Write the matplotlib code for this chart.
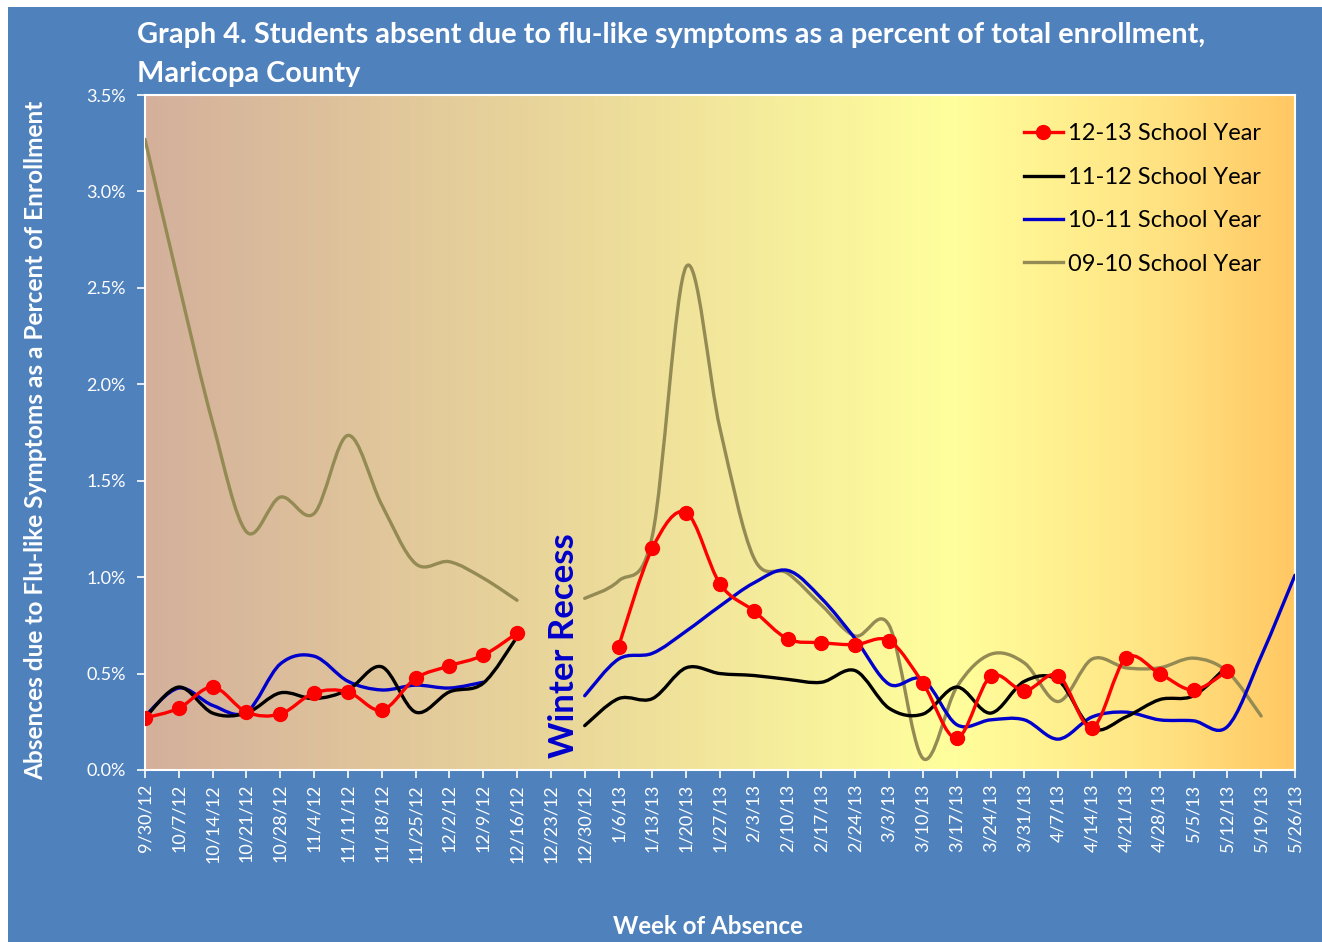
import matplotlib
matplotlib.use('Agg')
import matplotlib.pyplot as plt
import numpy as np
from matplotlib.path import Path
from matplotlib.patches import PathPatch, Rectangle
from matplotlib.lines import Line2D
from matplotlib.colors import LinearSegmentedColormap

weeks = ["9/30/12", "10/7/12", "10/14/12", "10/21/12", "10/28/12", "11/4/12", "11/11/12",
         "11/18/12", "11/25/12", "12/2/12", "12/9/12", "12/16/12", "12/23/12", "12/30/12",
         "1/6/13", "1/13/13", "1/20/13", "1/27/13", "2/3/13", "2/10/13", "2/17/13", "2/24/13",
         "3/3/13", "3/10/13", "3/17/13", "3/24/13", "3/31/13", "4/7/13", "4/14/13", "4/21/13",
         "4/28/13", "5/5/13", "5/12/13", "5/19/13", "5/26/13"]

# percent of enrollment, None = no data
sy_12_13 = [0.27, 0.32, 0.43, 0.30, 0.29, 0.40, 0.405, 0.31, 0.475, 0.54, 0.595, 0.71,
            None, None,
            0.64, 1.15, 1.335, 0.965, 0.825, 0.68, 0.66, 0.65, 0.67, 0.45, 0.165, 0.485,
            0.41, 0.49, 0.22, 0.58, 0.50, 0.415, 0.515, None, None]
sy_11_12 = [0.27, 0.43, 0.295, 0.295, 0.40, 0.37, 0.415, 0.535, 0.30, 0.405, 0.45, 0.69,
            None,
            0.23, 0.37, 0.37, 0.53, 0.50, 0.49, 0.47, 0.455, 0.515, 0.32, 0.29, 0.43, 0.295,
            0.46, 0.465, 0.215, 0.275, 0.365, 0.385, 0.54, None, None]
sy_10_11 = [0.28, 0.425, 0.335, 0.30, 0.55, 0.59, 0.46, 0.415, 0.44, 0.425, 0.455, None,
            None,
            0.385, 0.575, 0.605, 0.72, 0.85, 0.97, 1.035, 0.89, 0.68, 0.445, 0.47, 0.235,
            0.26, 0.26, 0.16, 0.275, 0.30, 0.26, 0.255, 0.225, 0.59, 1.01]
sy_09_10 = [3.27, 2.52, 1.80, 1.235, 1.415, 1.33, 1.735, 1.375, 1.07, 1.08, 0.995, 0.88,
            None,
            0.89, 0.98, 1.215, 2.61, 1.77, 1.10, 1.02, 0.855, 0.695, 0.75, 0.06, 0.43, 0.60,
            0.555, 0.355, 0.575, 0.53, 0.53, 0.58, 0.51, 0.28, None]

series = [("12-13 School Year", sy_12_13, "#FF0000", True),
          ("11-12 School Year", sy_11_12, "#000000", False),
          ("10-11 School Year", sy_10_11, "#0000CC", False),
          ("09-10 School Year", sy_09_10, "#948A54", False)]

y_ticks = [0.0, 0.5, 1.0, 1.5, 2.0, 2.5, 3.0, 3.5]
y_labels = ["0.0%", "0.5%", "1.0%", "1.5%", "2.0%", "2.5%", "3.0%", "3.5%"]

BG = "#4F81BD"
FONT = "Lato"


def runs(vals):
    seg = []
    for i, v in enumerate(vals):
        if v is None:
            if seg:
                yield seg
            seg = []
        else:
            seg.append((i, v))
    if seg:
        yield seg


def smooth_path(pts):
    # Excel style smoothed line: cubic bezier through every point
    p = np.array(pts, dtype=float)
    verts = [p[0]]
    codes = [Path.MOVETO]
    n = len(p)
    for i in range(n - 1):
        p0 = p[i - 1] if i > 0 else p[i]
        p3 = p[i + 2] if i + 2 < n else p[i + 1]
        c1 = p[i] + (p[i + 1] - p0) / 6.0
        c2 = p[i + 1] - (p3 - p[i]) / 6.0
        verts += [c1, c2, p[i + 1]]
        codes += [Path.CURVE4] * 3
    return Path(verts, codes)


fig = plt.figure(figsize=(13.22, 9.42), dpi=100)
fig.patches.append(Rectangle((8 / 1322, 0), 1, 1 - 7 / 942, transform=fig.transFigure,
                             facecolor=BG, edgecolor="none", zorder=-10))

ax = fig.add_axes([145 / 1322, 1 - 770 / 942, 1150 / 1322, 675 / 942])
ax.set_xlim(0, len(weeks) - 1)
ax.set_ylim(0, 3.5)

grad = LinearSegmentedColormap.from_list(
    "bg", [(0.0, "#D4B09C"), (0.38, "#EBD99A"), (0.70, "#FFFF9D"), (0.88, "#FFE383"), (1.0, "#FFC863")])
ax.imshow(np.linspace(0, 1, 256).reshape(1, -1), cmap=grad, aspect="auto",
          extent=[0, len(weeks) - 1, 0, 3.5], zorder=0)

for name, vals, color, markers in series[::-1]:
    for seg in runs(vals):
        ax.add_patch(PathPatch(smooth_path(seg), facecolor="none", edgecolor=color,
                               lw=2.4, capstyle="round", joinstyle="round", zorder=3))
        if markers:
            xs, ys = zip(*seg)
            ax.plot(xs, ys, "o", color=color, ms=10, zorder=4)

ax.set_xticks(range(len(weeks)))
ax.set_xticklabels(weeks, rotation=90, color="white", fontsize=13, family=FONT)
ax.set_yticks(y_ticks)
ax.set_yticklabels(y_labels, color="white", fontsize=13, family=FONT)
ax.tick_params(axis="both", colors="white", length=6, width=1.2, direction="out")
ax.tick_params(axis="y", pad=8)
ax.tick_params(axis="x", pad=4)
for s in ax.spines.values():
    s.set_color("white")
    s.set_linewidth(1.5)

ax.text(12.4, 0.06, "Winter Recess", rotation=90, color="#0000CC", fontsize=25,
        fontweight="bold", family=FONT, ha="center", va="bottom", zorder=5)

handles = [Line2D([], [], color=c, lw=2.4, marker="o" if m else None, ms=10)
           for _, _, c, m in series]
leg = ax.legend(handles, [s[0] for s in series], loc="upper right", frameon=False,
                prop={"family": FONT, "size": 17}, handlelength=1.65,
                handletextpad=0.25, labelspacing=0.95, borderaxespad=0.0,
                bbox_to_anchor=(0.979, 0.972))

fig.text(137 / 1322, 1 - 22 / 942,
         "Graph 4. Students absent due to flu-like symptoms as a percent of total enrollment,\nMaricopa County",
         color="white", fontsize=20.8, fontweight="bold", family=FONT, ha="left", va="top",
         linespacing=1.6)
fig.text(708 / 1322, 1 - 926 / 942, "Week of Absence", color="white", fontsize=17.4,
         fontweight="bold", family=FONT, ha="center", va="center")
fig.text(36 / 1322, 1 - 440 / 942, "Absences due to Flu-like Symptoms as a Percent of Enrollment",
         color="white", fontsize=17.6, fontweight="bold", family=FONT, rotation=90,
         ha="center", va="center")

fig.savefig("out.png", dpi=100)
